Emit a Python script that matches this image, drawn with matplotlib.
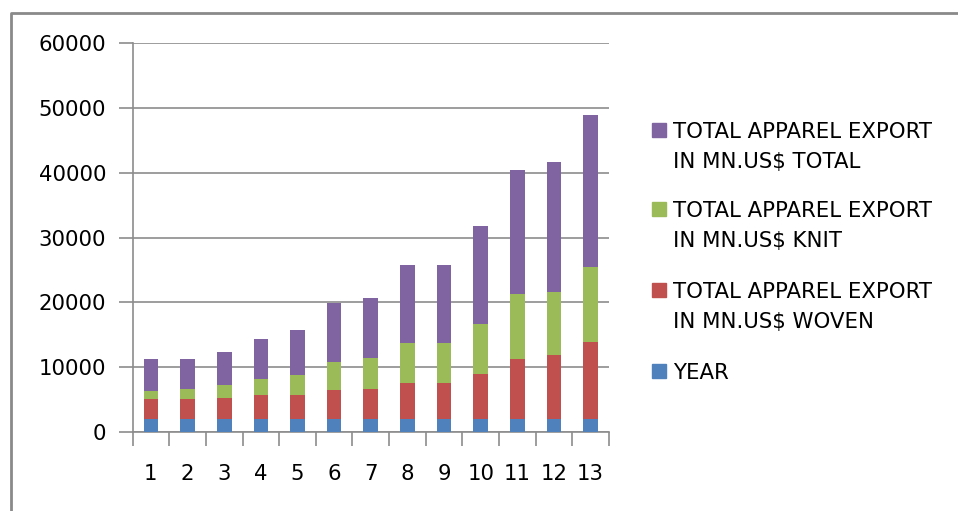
import matplotlib
matplotlib.use("Agg")
import matplotlib.pyplot as plt
import numpy as np
from matplotlib.patches import Rectangle
from matplotlib.lines import Line2D

# Data
categories = [str(i) for i in range(1, 14)]
year = [2000, 2001, 2002, 2003, 2004, 2005, 2006, 2007, 2008, 2009, 2010, 2011, 2012]
woven = [3040, 3040, 3240, 3650, 3650, 4430, 4630, 5610, 5610, 7000, 9210, 9930, 11930]
knit = [1330, 1540, 1960, 2570, 3140, 4320, 4730, 6110, 6110, 7700, 10020, 9710, 11460]
total = [4840, 4630, 5140, 6120, 6940, 9190, 9250, 12080, 12080, 15020, 19220, 19990, 23600]

series = [
    ("YEAR", year, "#4F81BD"),
    ("TOTAL APPAREL EXPORT\nIN MN.US$ WOVEN", woven, "#C0504D"),
    ("TOTAL APPAREL EXPORT\nIN MN.US$ KNIT", knit, "#9BBB59"),
    ("TOTAL APPAREL EXPORT\nIN MN.US$ TOTAL", total, "#8064A2"),
]

W, H = 958, 511
FS = 15.3
GRID = "#8C8C8C"

fig = plt.figure(figsize=(W / 100, H / 100), dpi=100)


def fx(x):
    return x / W


def fy(y):
    return 1 - y / H


# plot area
left, right, top, bottom = 132.6, 609, 43.3, 432
ax = fig.add_axes([fx(left), fy(bottom), (right - left) / W, (bottom - top) / H])

x = np.arange(len(categories))
base = np.zeros(len(categories))
for name, vals, color in series:
    ax.bar(x, vals, width=0.4, bottom=base, color=color, zorder=3)
    base += np.array(vals)

ax.set_xlim(-0.5, len(categories) - 0.5)
ax.set_ylim(0, 60000)
ax.set_yticks(np.arange(0, 60001, 10000))
ax.set_yticklabels([str(v) for v in range(0, 60001, 10000)], fontsize=FS)
ax.yaxis.grid(True, color=GRID, linewidth=1.2, zorder=0)
ax.tick_params(axis="y", length=10, width=1.2, color=GRID, pad=9)

# tick marks between categories, labels at the centres
ax.set_xticks(np.arange(-0.5, len(categories)), minor=False)
ax.set_xticklabels([])
ax.set_xticks(x, minor=True)
ax.set_xticklabels(categories, minor=True, fontsize=FS)
ax.tick_params(axis="x", which="major", length=10, width=1.2, color=GRID)
ax.tick_params(axis="x", which="minor", length=0, pad=23)

for side in ("top", "right"):
    ax.spines[side].set_visible(False)
for side in ("left", "bottom"):
    ax.spines[side].set_color(GRID)
    ax.spines[side].set_linewidth(1.2)

# legend, drawn top to bottom
leg_rows = [
    ("TOTAL APPAREL EXPORT\nIN MN.US$ TOTAL", "#8064A2", 122.7, 138.3),
    ("TOTAL APPAREL EXPORT\nIN MN.US$ KNIT", "#9BBB59", 201.7, 216.7),
    ("TOTAL APPAREL EXPORT\nIN MN.US$ WOVEN", "#C0504D", 282.7, 298.3),
    ("YEAR", "#4F81BD", 364.3, 379.3),
]
for label, color, box_top, baseline in leg_rows:
    fig.patches.append(Rectangle((fx(651.7), fy(box_top + 14)), 14 / W, 14 / H,
                                 transform=fig.transFigure, color=color))
    for i, line in enumerate(label.split("\n")):
        fig.text(fx(673), fy(baseline + 30 * i), line, fontsize=FS,
                 va="baseline", ha="left")

# chart frame (top and left edges)
fig.add_artist(Line2D([fx(10.5), fx(10.5), 1], [0, fy(13), fy(13)],
                      transform=fig.transFigure, color="#8A8A8A", linewidth=2))

fig.savefig("out.png", dpi=100)
